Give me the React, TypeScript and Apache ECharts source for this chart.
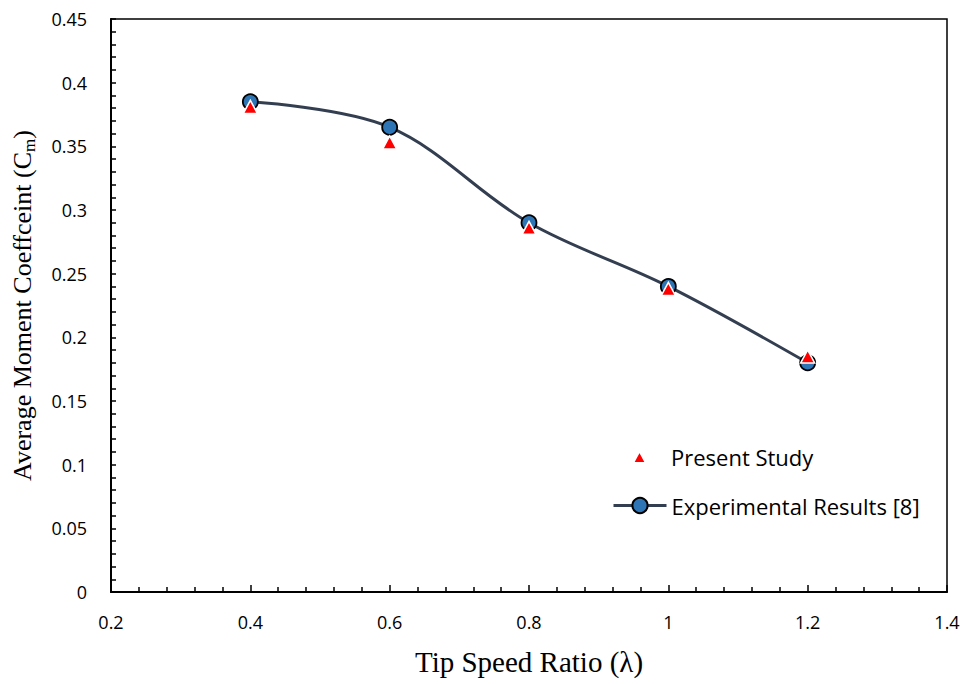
import React, { useEffect, useRef } from "react";
import * as echarts from "echarts";

const tsrExperimental = [0.4, 0.6, 0.8, 1.0, 1.2];
const cmExperimental = [0.385, 0.365, 0.29, 0.24, 0.18];
const tsrPresent = [0.4, 0.6, 0.8, 1.0, 1.2];
const cmPresent = [0.381, 0.353, 0.286, 0.238, 0.185];

const seriesNames = ["Present Study", "Experimental Results [8]"];
const xAxisTitle = "Tip Speed Ratio (λ)";
const yAxisTitle = "{a|Average Moment Coeffceint (C}{s|m}{a|)}";

export default function App() {
  const ref = useRef<HTMLDivElement>(null);
  useEffect(() => {
    if (!ref.current) return;
    const chart = echarts.init(ref.current, null, { renderer: "svg" });
    const labelFont = "'Open Sans', sans-serif";
    const serif = "'Liberation Serif', 'DejaVu Serif', serif";
    chart.setOption({
      animation: false,
      backgroundColor: "#ffffff",
      grid: {
        left: 111,
        top: 19,
        right: 24,
        bottom: 92,
        show: true,
        borderColor: "#000",
        borderWidth: 1.5,
        containLabel: false,
        outerBoundsMode: "none",
      },
      legend: [
        {
          left: 632,
          top: 446,
          padding: 0,
          itemWidth: 13,
          itemHeight: 12,
          icon: "triangle",
          data: [seriesNames[0]],
          textStyle: { fontFamily: labelFont, fontSize: 22, color: "#000", padding: [0, 0, 0, 20] },
        },
        {
          left: 612,
          top: 494.5,
          padding: 0,
          itemWidth: 53,
          itemHeight: 19,
          data: [seriesNames[1]],
          lineStyle: { color: "#333f50", width: 3 },
          textStyle: { fontFamily: labelFont, fontSize: 22, color: "#000" },
        },
      ],
      xAxis: {
        type: "value",
        min: 0.2,
        max: 1.4,
        interval: 0.2,
        name: xAxisTitle,
        nameLocation: "middle",
        nameGap: 55,
        nameTextStyle: { fontFamily: serif, fontSize: 29, color: "#000" },
        axisLine: { show: true, lineStyle: { color: "#000", width: 2 } },
        axisTick: { show: true, inside: true, length: 7, lineStyle: { color: "#000", width: 1.5 } },
        minorTick: { show: true, splitNumber: 5, length: 5, lineStyle: { color: "#000", width: 1.5 } },
        axisLabel: {
          fontFamily: labelFont,
          fontSize: 18,
          color: "#000",
          margin: 21,
          formatter: (v: number) => String(Math.round(v * 10) / 10),
        },
        splitLine: { show: false },
      },
      yAxis: {
        type: "value",
        min: 0,
        max: 0.45,
        interval: 0.05,
        name: yAxisTitle,
        nameLocation: "middle",
        nameGap: 73,
        nameTextStyle: {
          fontFamily: serif,
          fontSize: 26,
          color: "#000",
          rich: {
            a: { fontFamily: serif, fontSize: 26, color: "#000", lineHeight: 32 },
            s: { fontFamily: serif, fontSize: 17, color: "#000", lineHeight: 24, verticalAlign: "bottom" },
          },
        },
        axisLine: { show: true, lineStyle: { color: "#000", width: 2 } },
        axisTick: { show: true, inside: true, length: 5, lineStyle: { color: "#000", width: 1.5 } },
        minorTick: { show: true, splitNumber: 5, length: 5, lineStyle: { color: "#000", width: 1.5 } },
        axisLabel: {
          fontFamily: labelFont,
          fontSize: 18,
          color: "#000",
          margin: 24,
          formatter: (v: number) => String(Math.round(v * 100) / 100),
        },
        splitLine: { show: false },
      },
      series: [
        {
          name: seriesNames[1],
          type: "line",
          smooth: 0.35,
          data: tsrExperimental.map((x, i) => [x, cmExperimental[i]]),
          symbol: "circle",
          symbolSize: 15,
          lineStyle: { color: "#333f50", width: 3 },
          itemStyle: { color: "#2e75b6", borderColor: "#000", borderWidth: 1.8 },
          z: 2,
        },
        {
          name: seriesNames[0],
          type: "scatter",
          data: tsrPresent.map((x, i) => [x, cmPresent[i]]),
          symbol: "triangle",
          symbolSize: [14, 13],
          itemStyle: { color: "#ff0000", borderColor: "#ffffff", borderWidth: 1.5, opacity: 1 },
          z: 3,
        },
      ],
    });
    return () => chart.dispose();
  }, []);
  return (
    <div
      ref={ref}
      style={{ position: "fixed", left: 0, top: 0, width: 971, height: 684 }}
    />
  );
}
